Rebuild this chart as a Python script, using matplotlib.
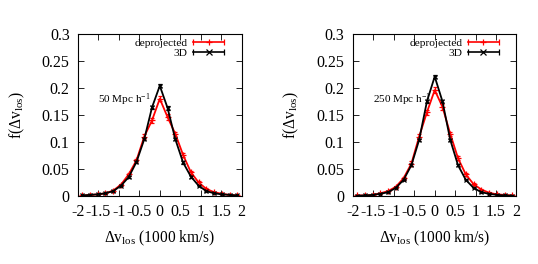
import matplotlib
matplotlib.use("Agg")
import matplotlib.pyplot as plt
from matplotlib.legend_handler import HandlerBase
from matplotlib.lines import Line2D

plt.rcParams['font.family'] = ['Liberation Serif', 'DejaVu Serif']
plt.rcParams['mathtext.fontset'] = 'custom'
plt.rcParams['mathtext.rm'] = 'Liberation Serif'
plt.rcParams['mathtext.it'] = 'Liberation Serif:italic'

# bin centres, 1000 km/s
dv = [-1.90, -1.71, -1.52, -1.33, -1.14, -0.95, -0.76, -0.57, -0.38, -0.19, 0.0,
      0.19, 0.38, 0.57, 0.76, 0.95, 1.14, 1.33, 1.52, 1.71, 1.90]

# 50 Mpc/h box
dep_50 = [0.001, 0.002, 0.003, 0.005, 0.010, 0.021, 0.040, 0.066, 0.110, 0.140, 0.180,
          0.146, 0.115, 0.076, 0.044, 0.025, 0.013, 0.007, 0.004, 0.002, 0.001]
dep_50_err = [0.001, 0.001, 0.001, 0.001, 0.002, 0.002, 0.003, 0.003, 0.004, 0.005, 0.005,
              0.005, 0.004, 0.003, 0.003, 0.002, 0.002, 0.001, 0.001, 0.001, 0.001]
d3_50 = [0.001, 0.002, 0.003, 0.005, 0.009, 0.019, 0.035, 0.063, 0.105, 0.164, 0.204,
         0.163, 0.105, 0.062, 0.036, 0.019, 0.009, 0.005, 0.003, 0.002, 0.001]
d3_50_err = [0.001, 0.001, 0.001, 0.001, 0.001, 0.001, 0.002, 0.002, 0.002, 0.003, 0.003,
             0.003, 0.002, 0.002, 0.002, 0.001, 0.001, 0.001, 0.001, 0.001, 0.001]

# 250 Mpc/h box
dep_250 = [0.001, 0.001, 0.002, 0.005, 0.009, 0.017, 0.033, 0.060, 0.110, 0.155, 0.196,
           0.165, 0.115, 0.070, 0.040, 0.022, 0.012, 0.006, 0.003, 0.002, 0.001]
dep_250_err = [0.001, 0.001, 0.001, 0.001, 0.001, 0.002, 0.003, 0.004, 0.004, 0.005, 0.006,
               0.005, 0.004, 0.004, 0.003, 0.002, 0.001, 0.001, 0.001, 0.001, 0.001]
d3_250 = [0.0005, 0.001, 0.002, 0.004, 0.007, 0.015, 0.030, 0.057, 0.104, 0.175, 0.221,
          0.175, 0.104, 0.057, 0.030, 0.015, 0.007, 0.004, 0.002, 0.001, 0.0005]
d3_250_err = [0.001, 0.001, 0.001, 0.001, 0.001, 0.001, 0.001, 0.002, 0.002, 0.003, 0.003,
              0.003, 0.002, 0.002, 0.001, 0.001, 0.001, 0.001, 0.001, 0.001, 0.001]

xticks = [-2, -1.5, -1, -0.5, 0, 0.5, 1, 1.5, 2]
xticklabels = ['-2', '-1.5', '-1', '-0.5', '0', '0.5', '1', '1.5', '2']
yticks = [0, 0.05, 0.1, 0.15, 0.2, 0.25, 0.3]
yticklabels = ['0', '0.05', '0.1', '0.15', '0.2', '0.25', '0.3']

panels = [
    (0.145, '50 Mpc h$^{-1}$', dep_50, dep_50_err, d3_50, d3_50_err),
    (0.656, '250 Mpc h$^{-1}$', dep_250, dep_250_err, d3_250, d3_250_err),
]


class HBarHandler(HandlerBase):
    # gnuplot-style key: horizontal line with end caps and a point in the middle
    def create_artists(self, legend, orig, xd, yd, width, height, fontsize, trans):
        c = orig.get_color()
        y = height / 2 - yd
        x0, x1 = -xd, width - xd
        line = Line2D([x0, x1], [y, y], color=c, lw=1.2, transform=trans)
        caps = Line2D([x0, x1], [y, y], ls='none', marker='|', ms=5, mew=0.9,
                      color=c, transform=trans)
        mid = Line2D([(x0 + x1) / 2], [y], ls='none', marker=orig.get_marker(),
                     ms=4, mew=0.9, color=c, transform=trans)
        return [line, caps, mid]


fig = plt.figure(figsize=(5.38, 2.64), dpi=100)

for left, label, dep, dep_err, d3, d3_err in panels:
    ax = fig.add_axes([left, 0.2576, 0.304, 0.614])
    ax.errorbar(dv, dep, yerr=dep_err, color='red', lw=1.3, marker='+', ms=4,
                mew=0.9, elinewidth=0.8, capsize=1.5, capthick=0.8)
    ax.errorbar(dv, d3, yerr=d3_err, color='black', lw=1.3, marker='x', ms=3.5,
                mew=0.9, elinewidth=0.8, capsize=1.5, capthick=0.8)
    ax.set_xlim(-2, 2)
    ax.set_ylim(0, 0.3)
    ax.set_xticks(xticks, xticklabels)
    ax.set_yticks(yticks, yticklabels)
    ax.tick_params(direction='in', top=True, right=True, length=4, width=0.6,
                   labelsize=11.5, pad=6)
    for sp in ax.spines.values():
        sp.set_linewidth(0.8)
    ax.text(-1.52, 0.178, label, fontsize=8, va='center', ha='left')
    ax.set_xlabel(r'$\Delta$v$_{\mathrm{los}}$ (1000 km/s)', fontsize=11.2, labelpad=6)
    ax.set_ylabel(r'f($\Delta$v$_{\mathrm{los}}$)', fontsize=11.2, labelpad=11)

    keys = [Line2D([], [], color='red', marker='+'),
            Line2D([], [], color='black', marker='x')]
    ax.legend(keys, ['deprojected', '3D'], handler_map={Line2D: HBarHandler()},
              loc='upper right', frameon=False, markerfirst=False, fontsize=8.2,
              handlelength=2.7, handletextpad=0.5, labelspacing=0.0,
              borderaxespad=0.2, borderpad=0.2, bbox_to_anchor=(0.92, 1.0))

fig.savefig('out.png', dpi=100)
